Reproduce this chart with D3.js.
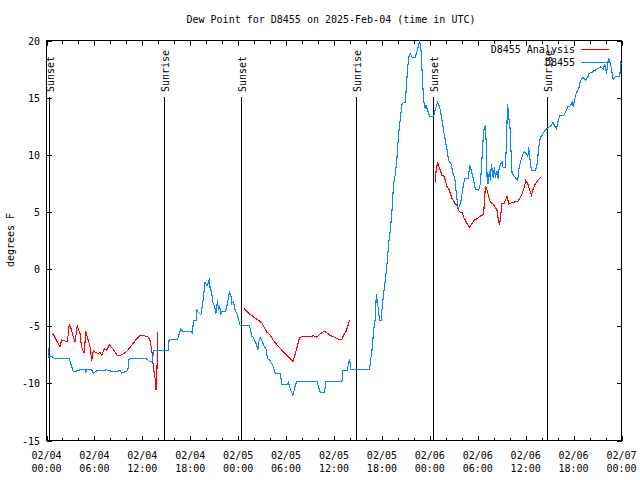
<!DOCTYPE html>
<html><head><meta charset="utf-8">
<script src="https://cdn.jsdelivr.net/npm/d3@7"></script>
<style>body{margin:0;background:#fff}svg{display:block}text{font-family:"DejaVu Sans Mono","Liberation Mono",monospace;font-size:10px;fill:#000}</style>
</head><body><svg id="c" width="640" height="480"></svg>
<script>
const titleText = "Dew Point for D8455 on 2025-Feb-04 (time in UTC)";
const yLabel = "degrees F";
const startTime = "2025-02-04T00:00:00Z";
const endTime = "2025-02-07T00:00:00Z";
const yTicks = [-15,-10,-5,0,5,10,15,20];
const seriesNames = ["D8455 Analysis","D8455"];
// hours after 2025-02-04 00:00 UTC
const sunHours = [0.32, 14.73, 24.33, 38.7, 48.35, 62.7];
const sunLabels = ["Sunset","Sunrise","Sunset","Sunrise","Sunset","Sunrise"];

const blueHours = [0.23,0.31,0.56,1.07,2.86,3.36,4.2,4.83,4.91,5.01,5.66,5.87,6.29,7.54,8.37,9.21,9.42,10.18,10.34,12.47,12.97,13.28,13.38,15.27,15.35,16.39,16.82,17.11,18.2,18.27,18.4,18.74,18.82,19.15,19.33,19.58,19.86,20.08,20.28,20.4,20.49,20.7,20.78,21.03,21.21,21.41,21.53,21.66,21.83,21.96,22.37,22.58,22.91,23.09,23.21,23.41,23.62,23.84,24.04,24.25,25.42,25.72,25.88,26.34,26.47,26.55,26.76,26.97,27.26,27.51,27.67,28.01,28.42,28.64,29.26,29.48,30.1,30.3,30.52,30.86,31.14,31.36,33.86,34.19,34.28,34.82,34.99,37.0,37.12,37.62,37.95,38.12,40.46,40.54,40.76,40.96,41.17,41.3,41.49,41.71,41.92,42.0,42.21,42.42,42.64,42.84,43.05,43.26,43.46,43.68,43.89,44.09,44.3,44.52,44.72,44.93,45.14,45.34,45.56,45.77,46.18,46.4,46.6,46.72,46.9,47.02,47.22,47.44,47.52,47.73,47.98,48.48,48.69,48.98,49.23,49.53,49.73,49.94,50.16,50.36,50.66,50.91,51.11,51.32,51.53,51.74,51.91,52.16,52.36,52.79,52.99,53.2,53.41,53.7,54.12,54.33,54.54,54.74,54.96,55.08,55.17,55.29,55.46,55.58,55.71,55.92,56.08,56.21,56.42,56.55,56.67,56.84,57.05,57.17,57.46,57.59,57.67,57.75,57.88,58.0,58.18,58.3,58.5,58.72,59.0,59.18,59.43,59.68,59.84,60.09,60.26,60.38,60.51,60.72,61.22,61.44,61.64,61.85,62.19,62.35,62.6,62.89,63.19,63.44,63.61,63.86,64.07,64.27,64.77,65.11,65.27,65.52,65.82,65.95,66.11,66.36,66.65,66.86,67.2,67.49,67.78,67.9,68.33,68.53,68.74,68.95,69.37,69.71,69.91,70.12,70.29,70.41,70.62,70.83,70.96,71.25,71.79,71.88,72.0];
const blueValues = [-6.9,-7.7,-7.6,-7.85,-7.85,-9.0,-8.82,-8.82,-9.1,-8.82,-8.82,-9.1,-8.9,-8.82,-9.0,-8.9,-9.1,-8.9,-7.85,-7.85,-8.1,-8.1,-7.1,-7.1,-6.2,-6.2,-5.23,-5.47,-5.47,-5.7,-4.5,-4.5,-3.6,-3.9,-4.0,-2.9,-1.15,-1.45,-1.2,-0.77,-1.73,-2.0,-2.9,-3.2,-3.9,-2.75,-3.6,-3.2,-3.9,-3.75,-3.75,-3.3,-2.0,-2.3,-3.0,-2.85,-3.6,-3.9,-4.35,-4.93,-4.93,-5.9,-5.95,-6.7,-7.1,-6.45,-5.96,-6.25,-6.77,-7.0,-7.85,-8.0,-8.58,-9.1,-9.1,-10.1,-10.1,-9.9,-10.48,-11.06,-10.2,-9.8,-9.8,-10.6,-10.8,-10.8,-9.8,-9.8,-8.9,-8.9,-7.85,-8.8,-8.82,-8.15,-7.1,-5.4,-4.3,-2.2,-3.2,-4.5,-4.5,-3.6,-2.2,-1.0,0.46,2.2,3.4,5.1,7.46,8.3,9.8,11.8,13.15,14.46,14.6,14.6,16.8,18.54,18.83,18.54,18.54,19.1,19.56,20.0,19.1,17.4,14.75,14.0,14.3,13.9,13.35,13.35,14.0,14.6,14.2,13.0,12.1,11.25,10.4,9.5,9.2,8.33,8.0,6.6,5.27,5.55,6.0,7.2,7.9,7.9,9.06,8.6,8.0,7.0,6.9,7.46,9.8,12.1,12.56,10.67,8.0,7.46,8.6,7.75,9.2,8.0,8.9,8.0,8.6,7.9,8.77,9.2,9.35,8.9,8.9,10.96,13.0,14.46,13.15,13.0,10.1,8.33,8.2,8.0,7.75,8.9,9.6,10.1,10.25,10.1,9.8,10.67,9.8,8.6,8.6,9.2,10.67,11.54,11.83,12.1,12.25,12.4,12.56,12.85,12.56,12.25,13.0,13.44,13.44,13.9,14.2,14.2,14.6,14.2,14.75,15.48,15.77,16.5,16.8,16.5,16.8,17.1,17.23,17.38,17.4,17.52,17.67,17.52,17.96,17.1,18.1,18.4,17.96,17.1,16.56,16.85,16.85,18.1,17.96];

// null marks a gap between segments
const redHours = [0.65,0.85,1.07,1.48,1.69,1.9,2.32,2.61,2.73,2.86,3.01,3.16,3.36,3.57,3.86,3.99,4.2,4.29,4.41,4.61,4.74,4.91,5.04,5.24,5.45,5.66,5.87,6.08,6.49,6.71,6.92,7.21,7.54,7.87,8.08,8.3,8.58,8.87,9.21,9.63,10.05,10.47,10.88,11.3,11.72,12.13,12.76,12.97,13.18,13.38,13.6,13.72,13.81,13.94,
 14.5,
 24.75,25.0,25.29,25.72,26.13,26.55,26.97,27.26,27.6,28.01,28.42,28.85,29.26,29.68,30.1,30.52,30.86,31.14,31.43,31.68,31.98,32.81,33.44,33.86,34.28,34.78,35.12,35.53,36.16,36.79,37.0,37.2,37.54,37.83,37.95,
 38.5,
 48.69,48.78,48.98,49.1,49.32,49.53,49.73,49.94,50.16,50.36,50.57,50.78,50.98,51.19,51.41,51.61,51.82,52.04,52.24,52.58,52.86,52.99,53.29,53.58,53.92,54.24,54.54,54.74,54.96,55.17,55.37,55.58,55.92,56.21,56.42,56.62,56.75,56.92,57.05,57.25,57.46,57.67,57.88,58.09,58.5,59.0,59.25,59.55,59.84,60.01,60.26,60.51,60.72,60.93,61.22,61.51,61.85,61.94];
const redValues = [-5.8,-5.66,-6.0,-6.54,-6.83,-6.2,-6.3,-6.3,-5.66,-4.8,-5.1,-5.4,-5.96,-6.4,-4.94,-5.24,-5.66,-6.25,-6.83,-7.27,-7.27,-5.4,-5.8,-6.25,-6.83,-8.0,-7.1,-7.27,-7.4,-7.27,-7.56,-6.97,-7.1,-6.63,-6.83,-6.97,-7.27,-7.56,-7.56,-7.4,-7.2,-6.83,-6.48,-6.1,-5.8,-5.8,-5.96,-6.25,-7.1,-8.58,-9.6,-10.6,-9.4,-5.5,
 null,
 -3.48,-3.62,-3.86,-4.06,-4.3,-4.5,-4.7,-5.1,-5.52,-5.8,-6.25,-6.63,-6.92,-7.27,-7.56,-7.85,-8.1,-7.4,-6.7,-6.0,-5.9,-5.9,-5.85,-5.96,-5.66,-5.43,-5.6,-5.8,-6.0,-6.2,-6.14,-5.8,-5.4,-4.8,-4.44,
 null,
 7.5,8.6,9.35,9.05,8.6,8.2,8.2,7.75,7.2,7.05,6.6,6.15,6.0,5.7,5.55,5.1,4.97,4.97,4.54,4.1,3.73,3.67,4.0,4.3,4.4,4.6,4.7,4.83,7.3,6.9,6.3,5.85,5.7,5.4,5.1,4.1,3.96,4.97,5.77,5.7,6.0,6.38,5.7,5.77,5.85,5.94,6.15,6.6,7.2,7.75,7.46,6.9,6.44,7.0,7.46,7.75,8.0,8.1];

const colors = ["#ff0000", "#0a84ff"];
const svg = d3.select("#c");
const L = 46.5, R = 621.5, T = 40.5, B = 440.5;
const t0 = new Date(startTime), t1 = new Date(endTime);
const toDate = h => new Date(t0.getTime() + h * 3600000);
const x = d3.scaleUtc().domain([t0, t1]).range([L, R]);
const y = d3.scaleLinear().domain([-15, 20]).range([B, T]);

// ticks
const majorT = d3.utcHour.every(6).range(t0, d3.utcHour.offset(t1, 1));
const minorT = d3.utcHour.every(2).range(t0, d3.utcHour.offset(t1, 1)).filter(d => d.getUTCHours() % 6 !== 0);
const g = svg.append("g").attr("stroke", "#000").attr("stroke-width", 1).attr("shape-rendering", "crispEdges");
majorT.forEach(d => {
  const xx = Math.round(x(d)) + 0.5;
  g.append("line").attr("x1", xx).attr("x2", xx).attr("y1", B).attr("y2", B - 5);
  g.append("line").attr("x1", xx).attr("x2", xx).attr("y1", T).attr("y2", T + 5);
});
minorT.forEach(d => {
  const xx = Math.round(x(d)) + 0.5;
  g.append("line").attr("x1", xx).attr("x2", xx).attr("y1", B).attr("y2", B - 3);
  g.append("line").attr("x1", xx).attr("x2", xx).attr("y1", T).attr("y2", T + 3);
});
yTicks.forEach(v => {
  const yy = Math.round(y(v)) + 0.5;
  g.append("line").attr("x1", L).attr("x2", L + 5).attr("y1", yy).attr("y2", yy);
  g.append("line").attr("x1", R).attr("x2", R - 5).attr("y1", yy).attr("y2", yy);
  svg.append("text").attr("x", 40).attr("y", yy).attr("text-anchor", "end").attr("dominant-baseline", "central").text(v);
});
const fmtD = d3.utcFormat("%m/%d"), fmtT = d3.utcFormat("%H:%M");
majorT.forEach(d => {
  const xx = x(d);
  svg.append("text").attr("x", xx).attr("y", 455).attr("text-anchor", "middle").attr("dominant-baseline", "central").text(fmtD(d));
  svg.append("text").attr("x", xx).attr("y", 468).attr("text-anchor", "middle").attr("dominant-baseline", "central").text(fmtT(d));
});

// sun lines
sunHours.forEach((h, i) => {
  const xx = Math.round(x(toDate(h))) + 0.5;
  g.append("line").attr("x1", xx).attr("x2", xx).attr("y1", 97).attr("y2", B);
  svg.append("text").attr("transform", `translate(${xx + 1},92) rotate(-90)`).attr("dominant-baseline", "central").text(sunLabels[i]);
});

// series
const line = d3.line().defined(d => d[1] !== null).x(d => x(toDate(d[0]))).y(d => y(d[1]));
const redData = redHours.map((h, i) => [h, redValues[i]]);
const blueData = blueHours.map((h, i) => [h, blueValues[i]]);
svg.append("path").datum(redData).attr("d", line).attr("fill", "none").attr("stroke", colors[0]).attr("stroke-width", 1.1).attr("shape-rendering", "crispEdges");
svg.append("path").datum(blueData).attr("d", line).attr("fill", "none").attr("stroke", colors[1]).attr("stroke-width", 1.1).attr("shape-rendering", "crispEdges");

// frame
g.append("rect").attr("x", L).attr("y", T).attr("width", R - L).attr("height", B - T).attr("fill", "none");

// legend
seriesNames.forEach((n, i) => {
  const yy = 49 + i * 13;
  svg.append("text").attr("x", 575).attr("y", yy).attr("text-anchor", "end").attr("dominant-baseline", "central").text(n);
  svg.append("line").attr("x1", 581).attr("x2", 609).attr("y1", yy + 0.5).attr("y2", yy + 0.5).attr("stroke", colors[i]).attr("stroke-width", 1).attr("shape-rendering", "crispEdges");
});

// title & y label
svg.append("text").attr("x", 331).attr("y", 19).attr("text-anchor", "middle").attr("dominant-baseline", "central").text(titleText);
svg.append("text").attr("transform", "translate(10,240) rotate(-90)").attr("text-anchor", "middle").attr("dominant-baseline", "central").text(yLabel);
</script></body></html>
